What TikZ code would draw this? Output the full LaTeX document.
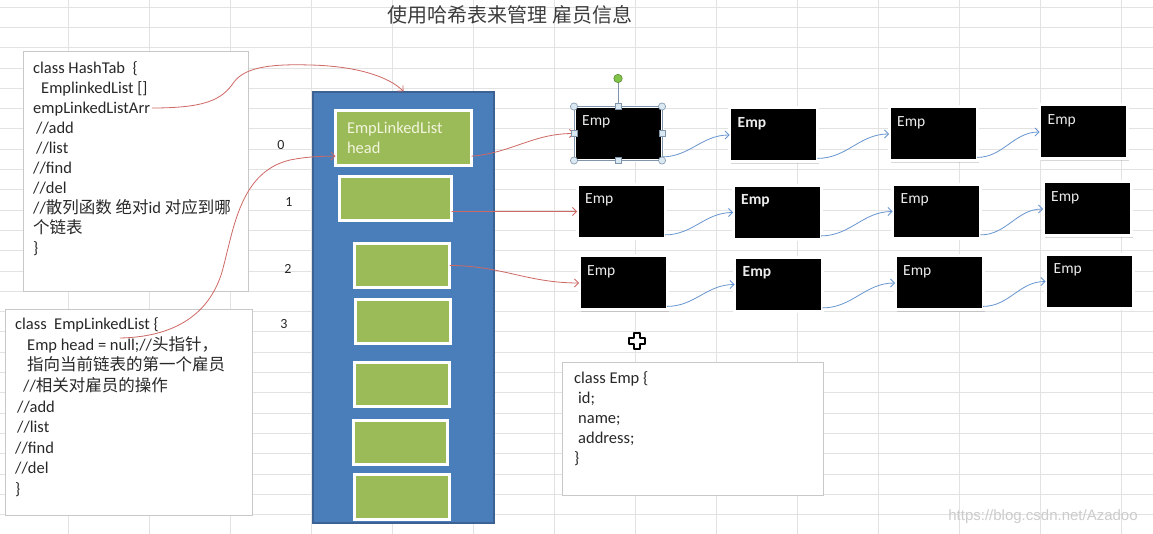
\documentclass[tikz,border=0pt]{standalone}
\usepackage{fontspec}
\setmainfont{Carlito}
\newfontfamily\cjk{Noto Sans CJK SC}
\newfontfamily\wmfont{Liberation Sans}
\usepackage{tikz}
\usetikzlibrary{arrows.meta,positioning,calc,shadows}
\definecolor{gridgray}{RGB}{226,226,226}
\definecolor{boxgray}{RGB}{200,200,200}
\definecolor{codegray}{RGB}{40,40,40}
\definecolor{tabblue}{RGB}{74,126,187}
\definecolor{tabbluedark}{RGB}{60,98,148}
\definecolor{slotgreen}{RGB}{155,187,89}
\definecolor{slotcream}{RGB}{242,244,220}
\definecolor{linkred}{RGB}{206,104,100}
\definecolor{linkblue}{RGB}{104,150,208}
\definecolor{handlefill}{RGB}{218,232,242}
\definecolor{handleline}{RGB}{128,148,170}
\definecolor{rotgreen}{RGB}{128,196,72}
\newcommand{\zh}[1]{{\cjk #1}}

\begin{document}
\begin{tikzpicture}[x=1pt,y=-1pt,
  gridline/.style={gridgray,line width=0.7pt},
  codebox/.style={draw=boxgray,fill=white,line width=0.8pt,inner sep=0pt,
    drop shadow={shadow xshift=1pt,shadow yshift=-1pt,opacity=0.15}},
  codetext/.style={anchor=north west,align=left,inner sep=0pt,text=codegray,
    font=\fontsize{16.5}{20}\selectfont},
  tablebox/.style={draw=tabbluedark,fill=tabblue,line width=1.2pt,inner sep=0pt},
  slotbox/.style={draw=white,fill=slotgreen,line width=3pt,inner sep=0pt,outer sep=0pt,
    drop shadow={shadow xshift=1pt,shadow yshift=-1pt,opacity=0.35}},
  empbox/.style={draw=white,fill=black,line width=3pt,inner sep=0pt,outer sep=0pt,
    minimum width=88pt,minimum height=54pt,
    drop shadow={shadow xshift=1.5pt,shadow yshift=-1.8pt,opacity=0.3}},
  emplabel/.style={anchor=north west,inner xsep=8pt,inner ysep=9pt,text=gray!15,
    font=\fontsize{15.5}{16}\selectfont},
  idxlabel/.style={text=codegray,font=\fontsize{14}{14}\selectfont},
  redlink/.style={linkred,line width=0.8pt,-{Straight Barb[length=4pt,width=8pt]}},
  bluelink/.style={linkblue,line width=0.8pt,-{Straight Barb[length=4pt,width=8pt]}},
  handle/.style={draw=handleline,fill=handlefill,line width=0.6pt},
  selline/.style={handleline,line width=0.8pt}]
  \useasboundingbox (0,0) rectangle (1153,534);
  \fill[white] (0,0) rectangle (1153,534);
  % --- spreadsheet grid ---
  \foreach \k in {0,...,13}
    \draw[gridline] ({68+81*\k},0) -- ({68+81*\k},534);
  \foreach \k in {0,...,26}
    \draw[gridline] (0,{7+20.3*\k}) -- (1153,{7+20.3*\k});
  % --- title ---
  \node[text=codegray!90,font=\cjk\fontsize{20}{20}\selectfont] (title) at (510,15)
        {使用哈希表来管理 雇员信息};
  % --- class boxes ---
  \node[codebox,minimum width=225pt,minimum height=240pt] (hashbox) at (135.5,171) {};
  \node[codetext] (hashtxt) at (33,61.5)
        {class HashTab~~\{\\
         \hspace*{8pt}EmplinkedList []\\
         empLinkedListArr\\
         \hspace*{3pt}//add\\
         \hspace*{3pt}//list\\
         //find\\
         //del\\
         //\zh{散列函数 绝对}id \zh{对应到哪}\\
         \zh{个链表}\\
         \}};
  \node[codebox,minimum width=247pt,minimum height=206pt] (listbox) at (128.5,412) {};
  \node[codetext,font=\fontsize{16.5}{20.6}\selectfont] (listtxt) at (15,317.5)
        {class~~EmpLinkedList \{\\
         \hspace*{12pt}Emp head = null;//\zh{头指针，}\\
         \hspace*{12pt}\zh{指向当前链表的第一个雇员}\\
         \hspace*{8pt}//\zh{相关对雇员的操作}\\
         \hspace*{2pt}//add\\
         \hspace*{2pt}//list\\
         //find\\
         //del\\
         \}};
  \node[codebox,minimum width=261pt,minimum height=133pt] (empclass) at (692.5,428.5) {};
  \node[codetext] (empclasstxt) at (574,371)
        {class Emp \{\\
         \hspace*{4pt}id;\\
         \hspace*{4pt}name;\\
         \hspace*{4pt}address;\\
         \}};
  % --- hash table array with its slots ---
  \node[tablebox,minimum width=181pt,minimum height=431pt] (hashtable) at (403.5,307.5) {};
  \node[slotbox,minimum width=136pt,minimum height=55pt,text width=113pt,align=left,
        text=slotcream,font=\fontsize{16.5}{20}\selectfont] (g0) at (403.5,138)
        {EmpLinkedList\\head};
  % slot index / centre x / centre y / width / height
  \foreach \i/\gx/\gy/\gw/\gh in {1/395.5/198.5/112/44,2/402/265.5/95/44,
      3/403/321.5/95/44,4/402/384.5/95/44,5/400.5/442.5/94/44,6/402/497/95/45}
    \node[slotbox,minimum width=\gw pt,minimum height=\gh pt] (g\i) at (\gx,\gy) {};
  \foreach \i/\ix/\iy in {0/281/145,1/289/202,2/288/269,3/284/324}
    \node[idxlabel] (idx\i) at (\ix,\iy) {\i};
  % --- Emp nodes: row / column / centre x / centre y / weight ---
  \foreach \r/\c/\ex/\ey/\f in {0/0/618/133.5/\mdseries,0/1/773.5/135/\bfseries,
      0/2/933/134/\mdseries,0/3/1083.5/132/\mdseries,
      1/0/621/211.5/\mdseries,1/1/777/212.5/\bfseries,
      1/2/936.5/211.5/\mdseries,1/3/1087/209/\mdseries,
      2/0/623/283/\mdseries,2/1/778.5/284.5/\bfseries,
      2/2/939/283/\mdseries,2/3/1089.5/281.5/\mdseries}
    \node[empbox,label={[emplabel]north west:\f Emp}] (E\r\c) at (\ex,\ey) {};
  % --- links ---
  \coordinate (arrsrc) at (152,108);
  \coordinate (headsrc) at (120,338);
  \draw[redlink] (arrsrc) .. controls (205,108) and (222,100) .. (234,82)
        .. controls (246,66) and (275,64) .. (310,65)
        .. controls (355,66) and (388,76) .. (hashtable.north);
  \draw[redlink] (headsrc) .. controls (170,337) and (208,318) .. (222,272)
        .. controls (234,228) and (240,172) .. (290,160)
        .. controls (305,157) and (320,156) .. (g0.195);
  \draw[redlink] (g0.-15) to[out=5,in=180] (E00.west);
  \draw[redlink] (g1.-13) -- (E10.west);
  \draw[redlink] (g2.east) to[out=0,in=180] (E20.west);
  \foreach \r in {0,1,2}
    \foreach \c/\n in {0/1,1/2,2/3}
      \draw[bluelink] (E\r\c.-28) to[out=0,in=180] (E\r\n.west);
  % --- selection handles on the first Emp ---
  \draw[selline] (E00.north west) rectangle (E00.south east);
  \coordinate (rot) at ($(E00.north)+(0,-28)$);
  \draw[selline] (E00.north) -- (rot);
  \foreach \a in {north west,north east,south west,south east}
    \draw[handle] (E00.\a) circle (3.6pt);
  \foreach \a in {north,south,west,east}
    \draw[handle] ($(E00.\a)+(-3,-3)$) rectangle ++(6,6);
  \draw[draw=rotgreen!70!black,fill=rotgreen,line width=0.6pt] (rot) circle (4.2pt);
  % --- move cursor ---
  \coordinate (cursor) at (637,341);
  \draw[black,fill=white,line width=1.5pt,line join=round] (cursor) ++(-3,-8)
        -- ++(6,0) -- ++(0,5) -- ++(5,0) -- ++(0,6) -- ++(-5,0) -- ++(0,5)
        -- ++(-6,0) -- ++(0,-5) -- ++(-5,0) -- ++(0,-6) -- ++(5,0) -- cycle;
  % --- watermark ---
  \node[text=gray!40,font=\wmfont\fontsize{15}{15}\selectfont] (wmark) at (1043,517)
        {https://blog.csdn.net/Azadoo};
\end{tikzpicture}
\end{document}
